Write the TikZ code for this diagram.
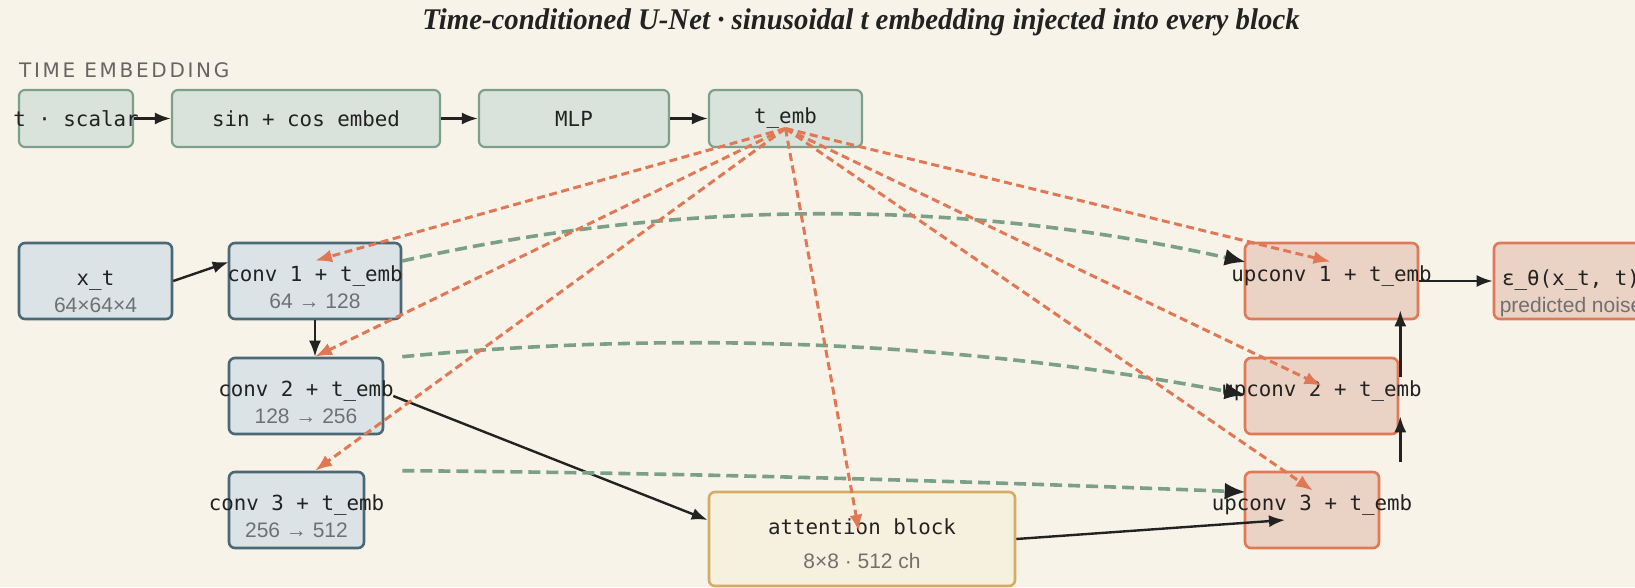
\documentclass[tikz,border=0pt]{standalone}
\usepackage{fontspec}
\setmainfont{Liberation Serif}
\newfontfamily\monof{DejaVu Sans Mono}
\newfontfamily\subf{Liberation Sans}
\newfontfamily\capf{DejaVu Sans}[LetterSpace=13.5]
\usetikzlibrary{arrows.meta,calc}
\definecolor{bgc}{HTML}{F7F3E8}
\definecolor{ink}{HTML}{222222}
\definecolor{subc}{HTML}{707070}
\definecolor{tfill}{HTML}{D9E3DC}
\definecolor{tline}{HTML}{7DA08A}
\definecolor{efill}{HTML}{DCE3E6}
\definecolor{eline}{HTML}{4A6876}
\definecolor{dfill}{HTML}{EAD2C4}
\definecolor{dline}{HTML}{DE7A58}
\definecolor{afill}{HTML}{F6F0DE}
\definecolor{aline}{HTML}{D4AC64}
\definecolor{embc}{HTML}{E07855}
\definecolor{skipc}{HTML}{7AA087}

\begin{document}
\begin{tikzpicture}[x=1pt,y=-1pt,>={Latex[length=16pt,width=12pt]},
	box/.style={rectangle,rounded corners=6pt,inner sep=0pt,line width=2.6pt},
	timebox/.style={box,draw=tline,fill=tfill,line width=2.2pt,minimum height=57pt,font=\monof\fontsize{20.8}{25}\selectfont,text=ink},
	encbox/.style={box,draw=eline,fill=efill,minimum height=76pt},
	decbox/.style={box,draw=dline,fill=dfill,minimum height=76pt},
	attbox/.style={box,draw=aline,fill=afill,minimum width=306pt,minimum height=94pt},
	mono/.style={inner sep=0pt,anchor=base,text=ink,font=\monof\fontsize{20.8}{25}\selectfont},
	sub/.style={inner sep=0pt,anchor=base,text=subc,font=\subf\fontsize{21}{25}\selectfont},
	link/.style={->,draw=ink,line width=2.4pt},
	emb/.style={-{Latex[length=17pt,width=13pt]},draw=embc,fill=none,line width=3pt,dash pattern=on 8pt off 4.5pt},
	skip/.style={-{Latex[length=21pt,width=17pt,color=ink]},draw=skipc,line width=3.6pt,dash pattern=on 12pt off 6pt}]
	\useasboundingbox (0,0) rectangle (1635,587);
	\fill[bgc] (0,0) rectangle (1635,587);
	\clip (0,0) rectangle (1635,587);
	\node[anchor=base,text=ink,xscale=0.96,font=\bfseries\itshape\fontsize{30}{36}\selectfont] (title) at (861,29) {Time-conditioned U-Net · sinusoidal t embedding injected into every block};
	\node[anchor=base west,inner sep=0pt,text=subc!90!black,font=\capf\fontsize{20}{24}\selectfont] (tlab) at (19,77) {TIME EMBEDDING};
	\node[timebox,minimum width=114pt] (tsc) at (76,118.5) {\makebox[0pt]{t · scalar}};
	\node[timebox,minimum width=268pt] (sce) at (306,118.5) {sin + cos embed};
	\node[timebox,minimum width=190pt] (mlp) at (574,118.5) {MLP};
	\node[timebox,minimum width=153pt] (temb) at (785.5,118.5) {t\_emb};
	\node[encbox,minimum width=153pt] (xt) at (95.5,281) {};
	\node[encbox,minimum width=172pt] (c1) at (315,281) {};
	\node[encbox,minimum width=154pt] (c2) at (306,396) {};
	\node[encbox,minimum width=135pt] (c3) at (296.5,510) {};
	\node[attbox] (att) at (862,539) {};
	\node[decbox,minimum width=173pt] (u1) at (1331.5,281) {};
	\node[decbox,minimum width=153pt] (u2) at (1321.5,396) {};
	\node[decbox,minimum width=134pt] (u3) at (1312,510) {};
	\node[decbox,minimum width=154pt] (eps) at (1571,281) {};
	\node[mono] (xta) at ($(xt.center)+(0,4)$) {x\_t};
	\node[sub] (xtb) at ($(xt.center)+(0,31)$) {64×64×4};
	\node[mono] (c1a) at (c1.center) {conv 1 + t\_emb};
	\node[sub] (c1b) at ($(c1.center)+(0,27)$) {64 → 128};
	\node[mono] (c2a) at (c2.center) {conv 2 + t\_emb};
	\node[sub] (c2b) at ($(c2.center)+(0,27)$) {128 → 256};
	\node[mono] (c3a) at (c3.center) {conv 3 + t\_emb};
	\node[sub] (c3b) at ($(c3.center)+(0,27)$) {256 → 512};
	\node[mono] (atta) at ($(att.center)+(0,-5)$) {attention block};
	\node[sub] (attb) at ($(att.center)+(0,29)$) {8×8 · 512 ch};
	\node[mono] (u1a) at (u1.center) {upconv 1 + t\_emb};
	\node[mono] (u2a) at (u2.center) {upconv 2 + t\_emb};
	\node[mono] (u3a) at (u3.center) {upconv 3 + t\_emb};
	\node[mono] (epsa) at ($(eps.center)+(0,4)$) {ε\_θ(x\_t, t)};
	\node[sub] (epsb) at ($(eps.center)+(0,31)$) {predicted noise};
	\coordinate (tsrc) at ($(temb.center)+(0,10)$);
	\draw[link] (tsc.east) -- (sce.west);
	\draw[link] (sce.east) -- (mlp.west);
	\draw[link] (mlp.east) -- (temb.west);
	\draw[link] (xt.east) -- ($(c1.west)+(1,-19)$);
	\draw[link] (c1.south) -- (c1.south |- c2.north);
	\draw[link] ($(c2.east)+(9,0)$) -- ($(att.west)+(0,-19)$);
	\draw[link] (att.east) -- ($(u3.center)+(-27,10)$);
	\draw[link] ($(u2.east |- u3.north)+(1,-9)$) -- ($(u2.south east)+(1,-19)$);
	\draw[link] ($(u2.east)+(1,-19)$) -- ($(u2.east |- u1.south)+(1,-10)$);
	\draw[link] (u1.east) -- (eps.west);
	\draw[skip] ($(c1.east)+(0,-20)$) .. controls +(281,-63) and +(-282,-63) .. ($(u1.west)+(2,-19)$);
	\draw[skip] (c1.east |- c2.north) .. controls +(281,-27) and +(-282,-53) .. ($(u2.west)+(2,-1)$);
	\draw[skip] (c1.east |- c3.north) .. controls +(281,2) and +(-282,-11) .. ($(u3.west)+(2,-18)$);
	\draw[emb] (tsrc) -- ($(c1.north)+(0,19)$);
	\draw[emb] (tsrc) -- (c1.south |- c2.north);
	\draw[emb] (tsrc) -- (c1.south |- c3.north);
	\draw[emb] (tsrc) -- ($(att.north)+(-3,41)$);
	\draw[emb] (tsrc) -- ($(u1.north)+(-1,20)$);
	\draw[emb] (tsrc) -- ($(u2.north)+(0,29)$);
	\draw[emb] (tsrc) -- ($(u3.north)+(1,20)$);
\end{tikzpicture}
\end{document}
